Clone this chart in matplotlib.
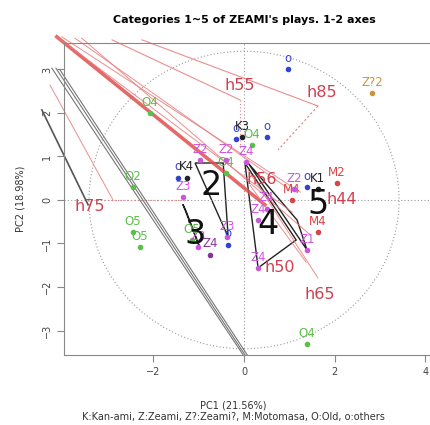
import numpy as np
import matplotlib
matplotlib.use("Agg")
from matplotlib import pyplot as plt
from matplotlib.patches import Circle

# PCA scores of the plays (PC1, PC2), grouped by author
greenX = [-2.08, -2.45, -2.45, -2.30, 1.39, 0.18, -1.15, -0.40]
greenY = [2.00, 0.30, -0.74, -1.08, -3.31, 1.26, -0.92, 0.62]
greenLab = ["O4", "O2", "O5", "O5", "O4", "O4", "O5", "O4"]

blueX = [0.97, 0.51, -0.18, -1.46, -0.35, 1.39]
blueY = [3.01, 1.45, 1.40, 0.51, -1.03, 0.30]
blueLab = ["o", "o", "o", "o", "o", "o"]

redX = [2.05, 1.06, 1.63]
redY = [0.39, 0.00, -0.74]
redLab = ["M2", "M4", "M4"]

orangeX = [2.83]
orangeY = [2.46]
orangeLab = ["Z?2"]

blackX = [-0.04, -1.26, 1.63]
blackY = [1.45, 0.51, 0.25]
blackLab = ["K3", "K4", "K1"]

zeamiX = [-0.97, -0.40, 0.04, -1.35, -0.38, 0.31, 1.39, 0.31, -1.02, 1.10, 0.50]
zeamiY = [0.92, 0.92, 0.87, 0.07, -0.85, -0.46, -1.15, -1.56, -1.08, 0.25, -0.20]
zeamiLab = ["Z2", "Z2", "Z4", "Z3", "Z3", "Z4", "Z1", "Z4", "Z3", "Z2", "Z4"]

purpleX = [-0.75]
purpleY = [-1.26]
purpleLab = ["Z4"]

# category centres and hulls
catLab = ["2", "3", "4", "5"]
catX = [-0.73, -1.08, 0.53, 1.63]
catY = [0.34, -0.80, -0.57, -0.11]
hullX = [[-1.08, -0.46, -0.35], [-1.35, -0.98, -1.28], [0.02, 0.31, 1.15], [0.09, 1.17, 1.39]]
hullY = [[0.85, 0.85, -0.85], [-0.10, -1.08, -0.25], [0.85, -1.56, -0.92], [0.85, -0.46, -1.15]]

# variable arrows (start x, start y, end x, end y, width)
arrowX0 = [-4.13, -4.13, -4.02, -3.73, -3.58, -2.91, -2.25, -4.28, 0.09, 0.13]
arrowY0 = [3.75, 3.75, 3.75, 3.72, 3.72, 3.68, 3.68, 2.64, 0.69, 0.34]
arrowX1 = [0.46, 1.06, 1.24, 1.02, 1.46, -0.09, 1.63, -2.89, 1.63, 1.37]
arrowY1 = [-0.11, -0.28, 0.18, 0.23, -0.80, 2.30, 2.16, 0.00, -1.79, -1.43]
arrowW = [2.6, 0.7, 0.7, 0.7, 0.7, 0.8, 0.8, 0.7, 0.7, 0.7]

varLab = ["h55", "h85", "h75", "h56", "h50", "h65", "h44"]
varX = [-0.09, 1.72, -3.40, 0.40, 0.79, 1.68, 2.15]
varY = [2.64, 2.48, -0.16, 0.46, -1.56, -2.18, 0.00]

# supplementary axes (grey)
greyX0 = [-4.24, -4.15, -4.06, -4.46]
greyY0 = [3.03, 3.03, 2.99, 2.07]
greyX1 = [-0.02, 0.02, 0.07, -3.44]
greyY1 = [-3.56, -3.56, -3.56, -0.11]

fig = plt.figure(figsize=(4.3, 4.25), dpi=100)
ax = fig.add_axes([0.149, 0.165, 0.856, 0.734])
ax.set_xlim(-3.97, 4.15)
ax.set_ylim(-3.56, 3.61)

ax.axhline(0, color="#999999", ls=(0, (1, 2)), lw=0.8)
ax.axvline(0, color="#999999", ls=(0, (1, 2)), lw=0.8)
ax.plot([-3.1, -1.2], [0, 0], color="#e08080", ls=(0, (1, 2)), lw=0.9)
ax.add_patch(Circle((0, 0), 3.42, fill=False, ec="#999999", ls=(0, (1, 2)), lw=0.8))

for i in range(len(greyX0)):
    ax.plot([greyX0[i], greyX1[i]], [greyY0[i], greyY1[i]],
            color="#777777" if i < 3 else "#555555", lw=0.8 if i < 3 else 1.2,
            clip_on=False)

for i in range(len(arrowX0)):
    ax.plot([arrowX0[i], arrowX1[i]], [arrowY0[i], arrowY1[i]],
            color="#e05050" if arrowW[i] > 1 else "#e87a7a", lw=arrowW[i],
            alpha=0.85, clip_on=False)
ax.plot([1.63, 0.75], [2.16, 1.15], color="#e08080", ls=(0, (2, 2)), lw=0.8)
ax.plot([-0.09, -0.09], [2.30, 1.15], color="#e08080", ls=(0, (1, 2)), lw=0.8)

for i in range(len(hullX)):
    ax.fill(hullX[i], hullY[i], fill=False, ec="#222222", lw=1.0)

groups = [
    (greenX, greenY, greenLab, "#5cbf4a"),
    (blueX, blueY, blueLab, "#3344cc"),
    (redX, redY, redLab, "#dd4444"),
    (orangeX, orangeY, orangeLab, "#c8963c"),
    (blackX, blackY, blackLab, "#222222"),
    (zeamiX, zeamiY, zeamiLab, "#cc55dd"),
    (purpleX, purpleY, purpleLab, "#883399"),
]
for gx, gy, gl, col in groups:
    ax.scatter(gx, gy, s=9, color=col, zorder=3)
    for x, y, t in zip(gx, gy, gl):
        ax.text(x, y + 0.1, t, color=col, fontsize=8.5, ha="center", va="bottom", zorder=3)

for x, y, t in zip(varX, varY, varLab):
    ax.text(x, y, t, color="#d04050", fontsize=11.5, ha="center", va="center", zorder=4)

for x, y, t in zip(catX, catY, catLab):
    ax.text(x, y, t, color="#111111", fontsize=24, ha="center", va="center", zorder=5)

for s in ax.spines.values():
    s.set_color("#888888")
ax.set_xticks([-2, 0, 2, 4])
ax.set_yticks([-3, -2, -1, 0, 1, 2, 3])
ax.tick_params(colors="#888888", labelcolor="#444444", labelsize=7, length=5)
for lab in ax.get_yticklabels():
    lab.set_rotation(90)
    lab.set_va("center")

ax.set_title("Categories 1~5 of ZEAMI's plays. 1-2 axes", fontsize=8, fontweight="bold",
             pad=14, x=0.49)
ax.set_xlabel("PC1 (21.56%)\nK:Kan-ami, Z:Zeami, Z?:Zeami?, M:Motomasa, O:Old, o:others",
              fontsize=7, color="#333333", labelpad=17, linespacing=1.25, x=0.46)
ax.set_ylabel("PC2 (18.98%)", fontsize=7, color="#333333", labelpad=12)

fig.savefig("out.png", dpi=100)
